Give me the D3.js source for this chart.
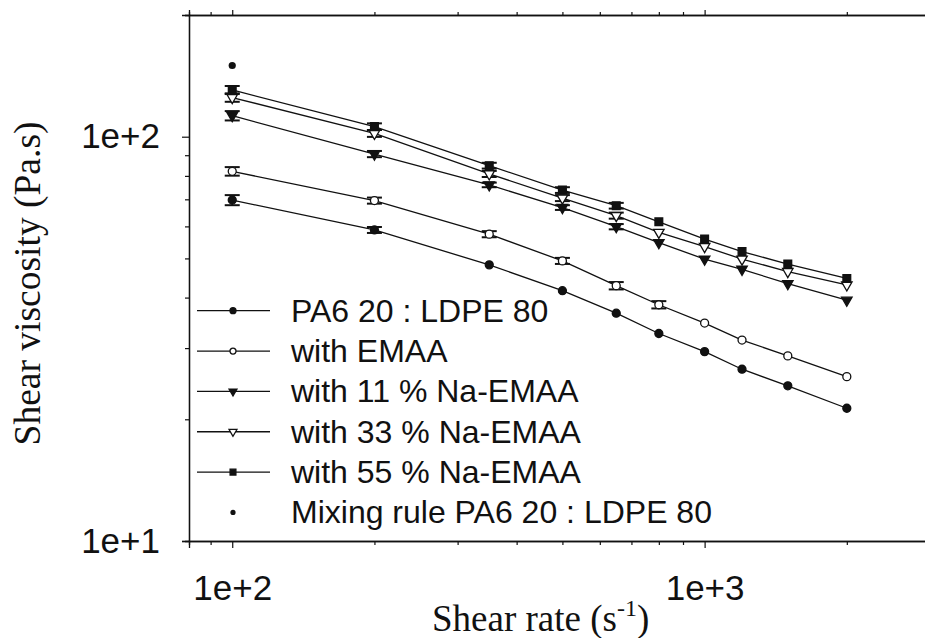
<!DOCTYPE html>
<html>
<head>
<meta charset="utf-8">
<script src="https://cdn.jsdelivr.net/npm/d3@7"></script>
<style>
  html, body { margin: 0; padding: 0; background: #fff; }
  svg { display: block; }
</style>
</head>
<body>
<svg id="chart" width="925" height="638"></svg>
<script>
// ---------------- data ----------------
const shearRate = [100, 200, 350, 500, 650, 800, 1000, 1200, 1500, 2000];

const seriesNames = [
  "PA6 20 : LDPE 80",
  "with EMAA",
  "with 11 % Na-EMAA",
  "with 33 % Na-EMAA",
  "with 55 % Na-EMAA"
];
const mixingRuleName = "Mixing rule PA6 20 : LDPE 80";

const pa6Ldpe  = [69.7, 58.8, 48.2, 41.6, 36.6, 32.6, 29.4, 26.6, 24.2, 21.3];
const withEMAA = [82.1, 69.5, 57.4, 49.3, 42.8, 38.4, 34.6, 31.4, 28.7, 25.5];
const na11     = [112.7, 90.6, 76.0, 66.8, 59.9, 54.7, 49.8, 47.0, 43.3, 39.4];
const na33     = [125.0, 101.9, 80.9, 70.5, 63.8, 58.0, 53.5, 49.8, 46.4, 43.0];
const na55     = [130.5, 105.9, 84.8, 73.8, 67.5, 61.6, 55.8, 52.0, 48.4, 44.6];

// error bars (absolute, Pa.s); 0 = none shown
const pa6LdpeErr  = [2.0, 1.0, 0, 0, 0, 0, 0, 0, 0, 0];
const withEMAAErr = [2.0, 1.2, 1.0, 0.85, 0.9, 0.8, 0, 0, 0, 0];
const na11Err     = [3.0, 1.6, 1.0, 0.9, 0.9, 0, 0, 0, 0, 0];
const na33Err     = [3.0, 2.0, 1.4, 1.2, 1.1, 0, 0, 0, 0, 0];
const na55Err     = [3.0, 2.0, 1.4, 1.2, 1.1, 0, 0, 0, 0, 0];

const mixingRuleX = [100];
const mixingRuleY = [150];

const xTickValues = [100, 1000];
const xTickLabels = ["1e+2", "1e+3"];
const yTickValues = [10, 100];
const yTickLabels = ["1e+1", "1e+2"];

const xTitle = "Shear rate (s";
const xTitleSup = "-1";
const yTitle = "Shear viscosity (Pa.s)";

// ---------------- layout ----------------
const svg = d3.select("#chart");
const mLeft = 189, mRight = 930, mTop = 15, mBottom = 541;

const x = d3.scaleLog().domain([81, 3000]).range([mLeft, mRight]);
const y = d3.scaleLog().domain([10, 200]).range([mBottom, mTop]);

const ink = "#111";
const sansFont = "'Liberation Sans', Arial, Helvetica, sans-serif";
const serifFont = "'Liberation Serif', 'Times New Roman', Times, serif";

// minor ticks
function minorTicks(domain) {
  const out = [];
  for (let p = Math.floor(Math.log10(domain[0])); p <= Math.ceil(Math.log10(domain[1])); p++) {
    for (let m = 2; m <= 9; m++) {
      const v = m * Math.pow(10, p);
      if (v >= domain[0] && v <= domain[1]) out.push(v);
    }
  }
  return out;
}
const xMinor = minorTicks(x.domain());
const yMinor = minorTicks(y.domain());

function styleAxis(g) {
  g.selectAll("path").attr("stroke", ink).attr("stroke-width", 1.3);
  g.selectAll("line").attr("stroke", ink).attr("stroke-width", 1.2);
  g.selectAll("text").attr("fill", ink).attr("font-family", sansFont).attr("font-size", 35);
}

// bottom axis
svg.append("g").attr("transform", `translate(0,${mBottom})`)
  .call(d3.axisBottom(x).tickValues(xMinor).tickSize(4).tickFormat(""))
  .call(styleAxis);
svg.append("g").attr("transform", `translate(0,${mBottom})`)
  .call(d3.axisBottom(x).tickValues(xTickValues).tickSize(7).tickPadding(27)
    .tickFormat((d, i) => xTickLabels[i]))
  .call(styleAxis);

// top axis
svg.append("g").attr("transform", `translate(0,${mTop})`)
  .call(d3.axisTop(x).tickValues(xMinor).tickSize(3).tickFormat(""))
  .call(styleAxis);
svg.append("g").attr("transform", `translate(0,${mTop})`)
  .call(d3.axisTop(x).tickValues(xTickValues).tickSize(5).tickFormat(""))
  .call(styleAxis);

// left axis
svg.append("g").attr("transform", `translate(${mLeft},0)`)
  .call(d3.axisLeft(y).tickValues(yMinor).tickSize(4).tickFormat(""))
  .call(styleAxis);
svg.append("g").attr("transform", `translate(${mLeft},0)`)
  .call(d3.axisLeft(y).tickValues(yTickValues).tickSize(7).tickPadding(22)
    .tickFormat((d, i) => yTickLabels[i]))
  .call(styleAxis);

// right axis (just outside the view)
svg.append("g").attr("transform", `translate(${mRight},0)`)
  .call(d3.axisRight(y).tickValues(yTickValues).tickSize(5).tickFormat(""))
  .call(styleAxis);

// axis titles
const xt = svg.append("text")
  .attr("x", 432).attr("y", 631)
  .attr("font-family", serifFont).attr("font-size", 37).attr("fill", ink);
xt.append("tspan").text(xTitle);
xt.append("tspan").attr("font-size", 24).attr("dy", -15).text(xTitleSup);
xt.append("tspan").attr("dy", 15).text(")");

svg.append("text")
  .attr("transform", "translate(40,283.5) rotate(-90)")
  .attr("text-anchor", "middle")
  .attr("font-family", serifFont).attr("font-size", 37.5).attr("fill", ink)
  .text(yTitle);

// ---------------- series ----------------
const series = [
  { name: seriesNames[0], values: pa6Ldpe,  err: pa6LdpeErr,  shape: "circle",   fill: true },
  { name: seriesNames[1], values: withEMAA, err: withEMAAErr, shape: "circle",   fill: false },
  { name: seriesNames[2], values: na11,     err: na11Err,     shape: "triangle", fill: true },
  { name: seriesNames[3], values: na33,     err: na33Err,     shape: "triangle", fill: false },
  { name: seriesNames[4], values: na55,     err: na55Err,     shape: "square",   fill: true }
];

const symType = { circle: d3.symbolCircle, triangle: d3.symbolTriangle, square: d3.symbolSquare };
const symSize = { circle: 50, triangle: 48, square: 60 };

function drawMarker(g, s, cx, cy, scale) {
  const path = d3.symbol().type(symType[s.shape]).size(symSize[s.shape] * scale * scale)();
  const rot = s.shape === "triangle" ? " rotate(180)" : "";
  g.append("path")
    .attr("d", path)
    .attr("transform", `translate(${cx},${cy})${rot}`)
    .attr("fill", s.fill ? ink : "#fff")
    .attr("stroke", ink)
    .attr("stroke-width", 1.3);
}

const line = d3.line().x(d => x(d[0])).y(d => y(d[1]));
const plot = svg.append("g");

// lines
series.forEach(s => {
  plot.append("path")
    .datum(shearRate.map((r, i) => [r, s.values[i]]))
    .attr("d", line)
    .attr("fill", "none")
    .attr("stroke", ink)
    .attr("stroke-width", 1.3);
});

// error bars
series.forEach(s => {
  shearRate.forEach((r, i) => {
    const e = s.err[i];
    if (!e) return;
    const cx = x(r), y1 = y(s.values[i] + e), y2 = y(s.values[i] - e);
    plot.append("line").attr("x1", cx).attr("x2", cx).attr("y1", y1).attr("y2", y2)
      .attr("stroke", ink).attr("stroke-width", 1.5);
    [y1, y2].forEach(yy => {
      plot.append("line").attr("x1", cx - 7.5).attr("x2", cx + 7.5).attr("y1", yy).attr("y2", yy)
        .attr("stroke", ink).attr("stroke-width", 2);
    });
  });
});

// markers
series.forEach(s => {
  shearRate.forEach((r, i) => drawMarker(plot, s, x(r), y(s.values[i]), 1));
});

// mixing rule point
mixingRuleX.forEach((r, i) => {
  plot.append("circle").attr("cx", x(r)).attr("cy", y(mixingRuleY[i])).attr("r", 3.6).attr("fill", ink);
});

// ---------------- legend ----------------
const legend = svg.append("g");
const legX1 = 197, legX2 = 270, legSym = 233, legText = 291;
const legBase0 = 321.7, legStep = 40.35;
const legFont = 32;
series.forEach((s, i) => {
  const base = legBase0 + i * legStep;
  const ly = base - 11;
  legend.append("line").attr("x1", legX1).attr("x2", legX2).attr("y1", ly).attr("y2", ly)
    .attr("stroke", ink).attr("stroke-width", 1.3);
  drawMarker(legend, s, legSym, ly, 0.75);
  legend.append("text").attr("x", legText).attr("y", base)
    .attr("font-family", sansFont).attr("font-size", legFont).attr("fill", ink).text(s.name);
});
{
  const base = legBase0 + 5 * legStep;
  legend.append("circle").attr("cx", legSym).attr("cy", base - 11).attr("r", 2.6).attr("fill", ink);
  legend.append("text").attr("x", legText).attr("y", base)
    .attr("font-family", sansFont).attr("font-size", legFont).attr("fill", ink).text(mixingRuleName);
}
</script>
</body>
</html>
